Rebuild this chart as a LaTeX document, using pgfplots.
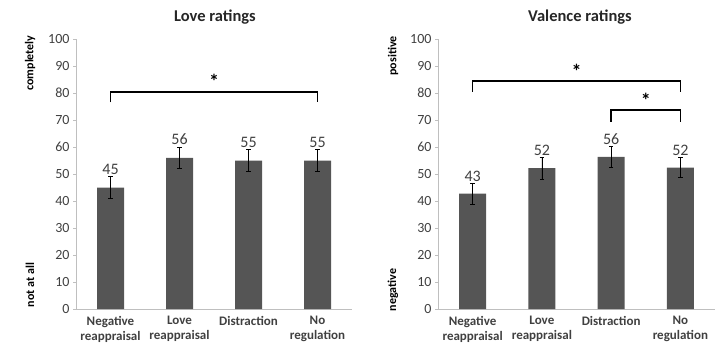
\documentclass[border=0pt]{standalone}
\usepackage{fontspec}
\setmainfont{Carlito}
\usepackage{pgfplots}
\usepackage{pgfplotstable}
\pgfplotsset{compat=1.18}
\definecolor{barc}{HTML}{555555}
\definecolor{axgray}{HTML}{BFBFBF}
\definecolor{txt}{HTML}{404040}

\pgfplotstableread{
x y err
0 45.0 4.0
1 56.0 4.0
2 55.0 4.0
3 55.0 4.0
}\loveTable
\pgfplotstableread{
x y err
0 42.7 3.8
1 52.2 4.0
2 56.3 4.0
3 52.4 3.8
}\valTable

\pgfplotsset{mystyle/.style={
  scale only axis, width=276pt, height=270pt,
  ymin=0, ymax=100, ytick={0,10,...,100},
  xmin=-0.5, xmax=3.5, xtick={0,1,2,3},
  xticklabels={Negative\\reappraisal, Love\\reappraisal, Distraction, No\\regulation},
  xticklabel style={font=\bfseries\fontsize{13}{15}\selectfont, align=center, text=txt, anchor=north, yshift=-1pt},
  yticklabel style={font=\fontsize{14}{14}\selectfont, text=txt},
  /pgf/number format/assume math mode=true,
  axis x line*=bottom, axis y line*=left,
  axis line style={axgray, line width=0.6pt},
  x axis line style={-}, y axis line style={-},
  major x tick style={draw=none},
  major y tick style={axgray, line width=0.6pt},
  tick align=outside, major tick length=3pt,
  ybar, bar width=27pt,
  clip=false,
}}

\begin{document}
\begin{tikzpicture}[x=1pt,y=1pt]
\useasboundingbox (0,0) rectangle (719,349);
% Left panel
\begin{axis}[mystyle, at={(76pt,40pt)}, anchor=south west]
\addplot[fill=barc, draw=none, error bars/.cd, y dir=both, y explicit,
  error bar style={black, line width=0.6pt}, error mark options={rotate=90, black, mark size=2.2pt, line width=0.6pt}]
  table[x=x, y=y, y error=err] {\loveTable};
\addplot[sharp plot, black, line width=1.6pt, forget plot] coordinates {(0,76.5) (0,80.3) (3,80.3) (3,76.5)};
\node[font=\bfseries\fontsize{20}{20}\selectfont] at (axis cs:1.5,84.5) {*};
\node[font=\fontsize{16}{16}\selectfont, text=txt] at (axis cs:0,51.8) {45};
\node[font=\fontsize{16}{16}\selectfont, text=txt] at (axis cs:1,62.8) {56};
\node[font=\fontsize{16}{16}\selectfont, text=txt] at (axis cs:2,61.8) {55};
\node[font=\fontsize{16}{16}\selectfont, text=txt] at (axis cs:3,61.8) {55};
\end{axis}
% Right panel
\begin{axis}[mystyle, width=277pt, at={(438pt,40pt)}, anchor=south west]
\addplot[fill=barc, draw=none, error bars/.cd, y dir=both, y explicit,
  error bar style={black, line width=0.6pt}, error mark options={rotate=90, black, mark size=2.2pt, line width=0.6pt}]
  table[x=x, y=y, y error=err] {\valTable};
\addplot[sharp plot, black, line width=1.6pt, forget plot] coordinates {(0,80.4) (0,84.4) (3,84.4) (3,80.4)};
\addplot[sharp plot, black, line width=1.6pt, forget plot] coordinates {(2,69.3) (2,73.8) (3,73.8) (3,69.3)};
\node[font=\bfseries\fontsize{20}{20}\selectfont] at (axis cs:1.5,88.2) {*};
\node[font=\bfseries\fontsize{20}{20}\selectfont] at (axis cs:2.5,77.3) {*};
\node[font=\fontsize{16}{16}\selectfont, text=txt] at (axis cs:0,49.2) {43};
\node[font=\fontsize{16}{16}\selectfont, text=txt] at (axis cs:1,58.6) {52};
\node[font=\fontsize{16}{16}\selectfont, text=txt] at (axis cs:2,63.0) {56};
\node[font=\fontsize{16}{16}\selectfont, text=txt] at (axis cs:3,58.6) {52};
\end{axis}
% Titles and side labels
\node[font=\bfseries\fontsize{16.5}{17}\selectfont, text=black!85] at (215,332) {Love ratings};
\node[font=\bfseries\fontsize{16.5}{17}\selectfont, text=black!85] at (580,332) {Valence ratings};
\node[rotate=90, font=\bfseries\fontsize{12}{12}\selectfont] at (30,286) {completely};
\node[rotate=90, font=\bfseries\fontsize{12}{12}\selectfont] at (30,64) {not at all};
\node[rotate=90, font=\bfseries\fontsize{12}{12}\selectfont] at (393,293) {positive};
\node[rotate=90, font=\bfseries\fontsize{12}{12}\selectfont] at (393,59) {negative};
\end{tikzpicture}
\end{document}
